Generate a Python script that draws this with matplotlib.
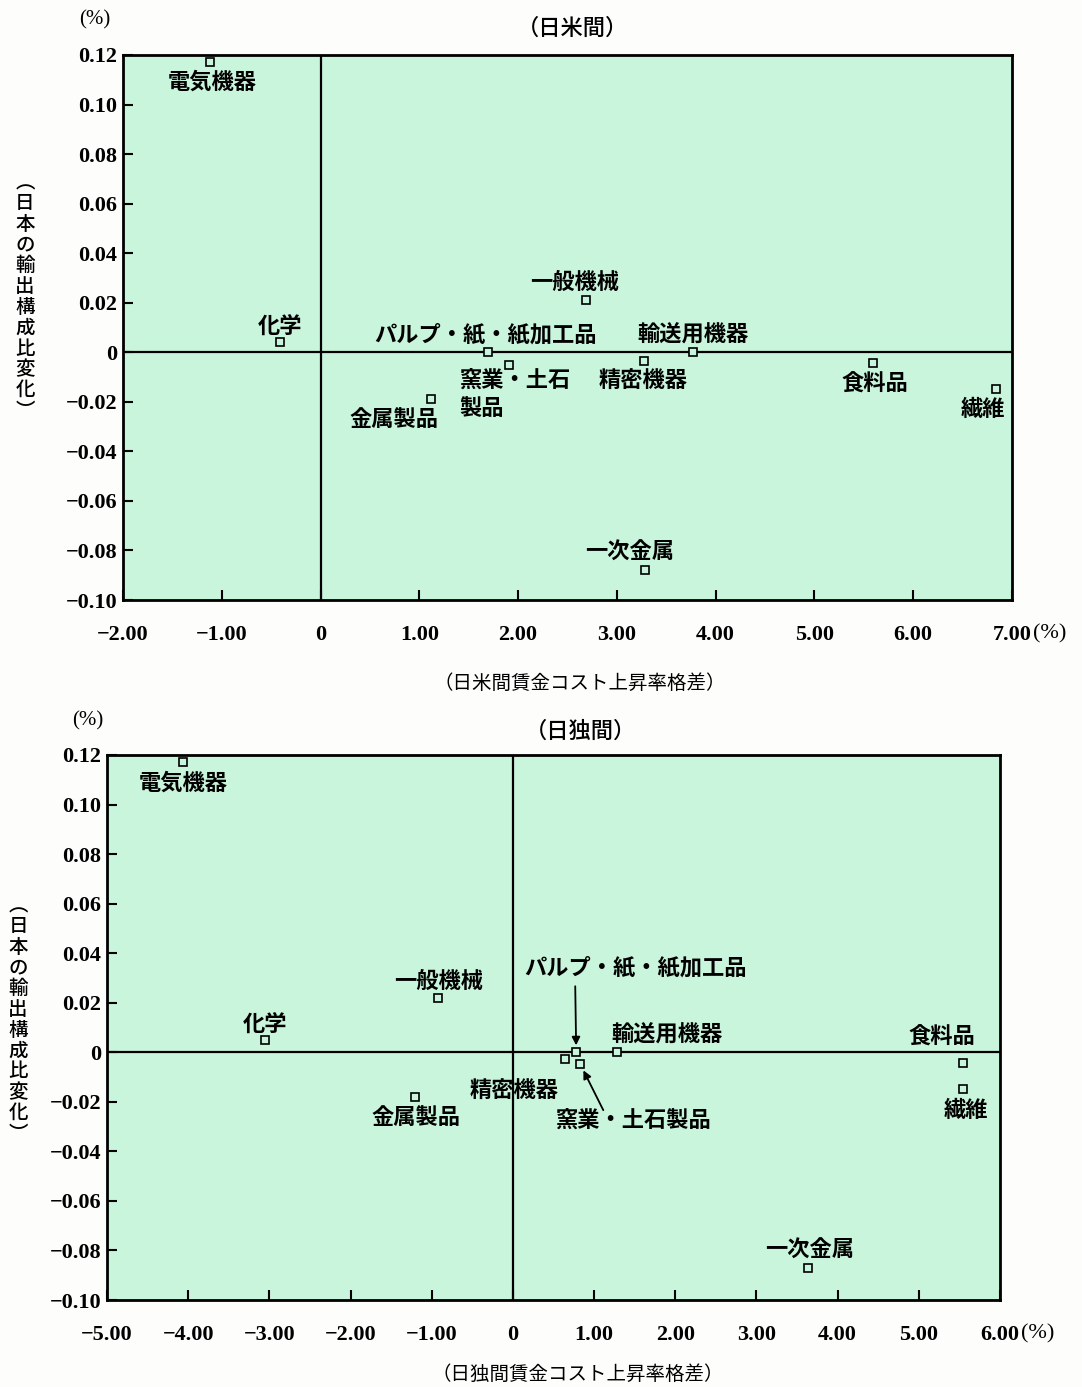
import matplotlib
matplotlib.use('Agg')
import matplotlib.pyplot as plt

JP = ['Noto Sans CJK JP', 'DejaVu Sans']
NUM = ['Liberation Serif', 'DejaVu Serif']

# ---------------- data ----------------
industries = ['電気機器', '化学', '一般機械', 'パルプ・紙・紙加工品', '輸送用機器',
              '窯業・土石製品', '精密機器', '金属製品', '食料品', '繊維', '一次金属']
# 日米間: wage-cost growth differential (%) vs change in export share (%)
us_x = [-1.12, -0.41, 2.69, 1.70, 3.77, 1.91, 3.27, 1.12, 5.59, 6.84, 3.28]
us_y = [0.117, 0.004, 0.021, 0.0, 0.0, -0.005, -0.0037, -0.019, -0.0045, -0.015, -0.088]
# 日独間
de_x = [-4.06, -3.05, -0.92, 0.78, 1.28, 0.83, 0.64, -1.21, 5.54, 5.54, 3.63]
de_y = [0.117, 0.005, 0.022, 0.0, 0.0, -0.0048, -0.0028, -0.018, -0.0044, -0.015, -0.087]

us_xticks = [-2, -1, 0, 1, 2, 3, 4, 5, 6, 7]
us_xticklabels = ['−2.00', '−1.00', '0', '1.00', '2.00', '3.00', '4.00', '5.00', '6.00', '7.00']
de_xticks = [-5, -4, -3, -2, -1, 0, 1, 2, 3, 4, 5, 6]
de_xticklabels = ['−5.00', '−4.00', '−3.00', '−2.00', '−1.00', '0', '1.00', '2.00',
                  '3.00', '4.00', '5.00', '6.00']
yticks = [0.12, 0.10, 0.08, 0.06, 0.04, 0.02, 0, -0.02, -0.04, -0.06, -0.08, -0.10]
yticklabels = ['0.12', '0.10', '0.08', '0.06', '0.04', '0.02', '0', '−0.02', '−0.04',
               '−0.06', '−0.08', '−0.10']

# ---------------- layout (label offsets in pixels) ----------------
us_labels = {
    '電気機器': dict(off=(2, -20)),
    '化学': dict(off=(0, 16)),
    '一般機械': dict(off=(-12, 18)),
    'パルプ・紙・紙加工品': dict(off=(-3, 17)),
    '輸送用機器': dict(off=(0, 17)),
    '窯業・土石製品': dict(off=(-50, -30), text='窯業・土石\n製品', ha='left'),
    '精密機器': dict(off=(0, -19)),
    '金属製品': dict(off=(-37, -20)),
    '食料品': dict(off=(2, -21)),
    '繊維': dict(off=(-13, -20)),
    '一次金属': dict(off=(-15, 18)),
}
de_labels = {
    '電気機器': dict(off=(0, -21)),
    '化学': dict(off=(0, 16)),
    '一般機械': dict(off=(0, 16)),
    'パルプ・紙・紙加工品': dict(off=(59, 84), arrow=((-1, 66), (0, 6))),
    '輸送用機器': dict(off=(50, 17)),
    '窯業・土石製品': dict(off=(53, -56), text='窯業・土石製品', arrow=((23, -46), (2, -4))),
    '精密機器': dict(off=(-51, -31)),
    '金属製品': dict(off=(1, -21)),
    '食料品': dict(off=(-21, 26)),
    '繊維': dict(off=(3, -21)),
    '一次金属': dict(off=(2, 18)),
}

W, H = 1082, 1387
fig = plt.figure(figsize=(W / 100, H / 100), dpi=100)
fig.patch.set_facecolor('#fdfdfb')
BG = '#c9f5dc'


def px_rect(l, r, t, b):
    return [l / W, 1 - b / H, (r - l) / W, (b - t) / H]


def draw(ax, xs, ys, xlim, xticks, xticklabels, labels):
    ax.set_facecolor(BG)
    ax.set_xlim(*xlim)
    ax.set_ylim(-0.10, 0.12)
    ax.axhline(0, color='black', lw=1.6, zorder=2)
    ax.axvline(0, color='black', lw=1.6, zorder=2)
    ax.plot(xs, ys, linestyle='none', marker='s', markersize=5.5,
            markerfacecolor=BG, markeredgecolor='black', markeredgewidth=1.2, zorder=4)
    for sp in ax.spines.values():
        sp.set_linewidth(2.0)
        sp.set_color('black')
    ax.set_xticks(xticks)
    ax.set_xticklabels(xticklabels, family=NUM, fontsize=16, fontweight='bold')
    ax.set_yticks(yticks)
    ax.set_yticklabels(yticklabels, family=NUM, fontsize=16, fontweight='bold')
    ax.tick_params(axis='x', direction='in', length=7, width=1.5, pad=18)
    ax.tick_params(axis='y', direction='in', length=7, width=1.5, pad=4)
    for name, x, y in zip(industries, xs, ys):
        spec = labels[name]
        txt = spec.get('text', name)
        ha = spec.get('ha', 'center')
        ax.annotate(txt, xy=(x, y), xytext=spec['off'], textcoords='offset pixels',
                    ha=ha, va='center', family=JP, fontsize=16, fontweight='bold',
                    linespacing=1.3, zorder=5)
        if 'arrow' in spec:
            (sx, sy), (ex, ey) = spec['arrow']
            ax.annotate('', xy=(x, y), xytext=(sx, sy), textcoords='offset pixels',
                        arrowprops=dict(arrowstyle='-|>', color='black', lw=1.3,
                                        mutation_scale=12, shrinkA=0, shrinkB=5),
                        zorder=5)
    # (%) after last x tick label
    ax.annotate('(%)', xy=(xlim[1], 0), xycoords=('data', 'axes fraction'),
                xytext=(21, -34), textcoords='offset pixels', ha='left', va='center',
                family=NUM, fontsize=16)


ax1 = fig.add_axes(px_rect(123, 1012, 55, 600))
draw(ax1, us_x, us_y, (-2, 7), us_xticks, us_xticklabels, us_labels)
ax2 = fig.add_axes(px_rect(107, 1000, 755, 1300))
draw(ax2, de_x, de_y, (-5, 6), de_xticks, de_xticklabels, de_labels)


def ftext(x, y, s, **kw):
    fig.text(x / W, 1 - y / H, s, ha='center', va='center', **kw)


ftext(573, 28, '（日米間）', family=JP, fontsize=16, fontweight='medium')
ftext(580, 731, '（日独間）', family=JP, fontsize=16, fontweight='medium')
ftext(95, 20, '(%)', family=NUM, fontsize=15)
ftext(88, 721, '(%)', family=NUM, fontsize=15)
ftext(580, 683, '（日米間賃金コスト上昇率格差）', family=JP, fontsize=14)
ftext(578, 1374, '（日独間賃金コスト上昇率格差）', family=JP, fontsize=14)

ylab = '\n'.join(['︵'] + list('日本の輸出構成比変化') + ['︶'])
ftext(25, 297, ylab, family=JP, fontsize=14, linespacing=1.12, fontweight='medium')
ftext(18, 1020, ylab, family=JP, fontsize=14, linespacing=1.12, fontweight='medium')

fig.savefig('out.png', dpi=100, facecolor=fig.get_facecolor())
